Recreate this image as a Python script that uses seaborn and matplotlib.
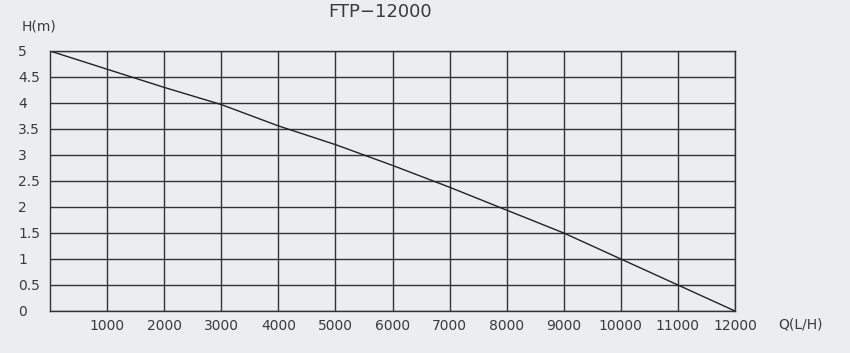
import matplotlib
matplotlib.use("Agg")
import matplotlib.pyplot as plt
import seaborn as sns
import pandas as pd

flow = [0, 1000, 2000, 3000, 4000, 5000, 6000, 7000, 8000, 9000, 10000, 11000, 12000]
head = [5.0, 4.65, 4.3, 3.97, 3.56, 3.2, 2.8, 2.38, 1.94, 1.5, 1.0, 0.5, 0.0]
x_ticks = [1000, 2000, 3000, 4000, 5000, 6000, 7000, 8000, 9000, 10000, 11000, 12000]
y_ticks = [0, 0.5, 1, 1.5, 2, 2.5, 3, 3.5, 4, 4.5, 5]
y_labels = ["0", "0.5", "1", "1.5", "2", "2.5", "3", "3.5", "4", "4.5", "5"]
title = "FTP\u221212000"
x_label = "Q(L/H)"
y_label = "H(m)"

bg = "#ECEDF0"
ink = "#333333"
txt = "#3a3a3a"
sns.set_style("white")
plt.rcParams["font.family"] = ["DejaVu Sans"]

fig = plt.figure(figsize=(8.5, 3.53), dpi=100, facecolor=bg)
ax = fig.add_axes([50/850, 1-311/353, 685/850, 260/353])
ax.set_facecolor(bg)

df = pd.DataFrame({"Q": flow, "H": head})
sns.lineplot(data=df, x="Q", y="H", ax=ax, color="#222222", linewidth=1.0)

ax.set_xlim(0, 12000)
ax.set_ylim(0, 5)
ax.set_xticks(x_ticks)
ax.set_xticklabels([str(v) for v in x_ticks])
ax.set_yticks(y_ticks)
ax.set_yticklabels(y_labels)
ax.grid(True, color=ink, linewidth=1.0)
ax.set_axisbelow(True)
for s in ax.spines.values():
    s.set_visible(True)
    s.set_color(ink)
    s.set_linewidth(1.0)
ax.tick_params(axis="both", length=0, labelsize=10, colors=txt)
ax.tick_params(axis="x", pad=6)
ax.tick_params(axis="y", pad=23)
for lab in ax.get_yticklabels():
    lab.set_horizontalalignment("left")
ax.set_xlabel("")
ax.set_ylabel("")

fig.text(778/850, 1-325/353, x_label, ha="left", va="center", fontsize=10, color=txt)
fig.text(22/850, 1-26/353, y_label, ha="left", va="center", fontsize=10, color=txt)
fig.text(380/850, 1-12/353, title, ha="center", va="center", fontsize=13, color=txt)

fig.savefig("out.png", dpi=100, facecolor=bg)
